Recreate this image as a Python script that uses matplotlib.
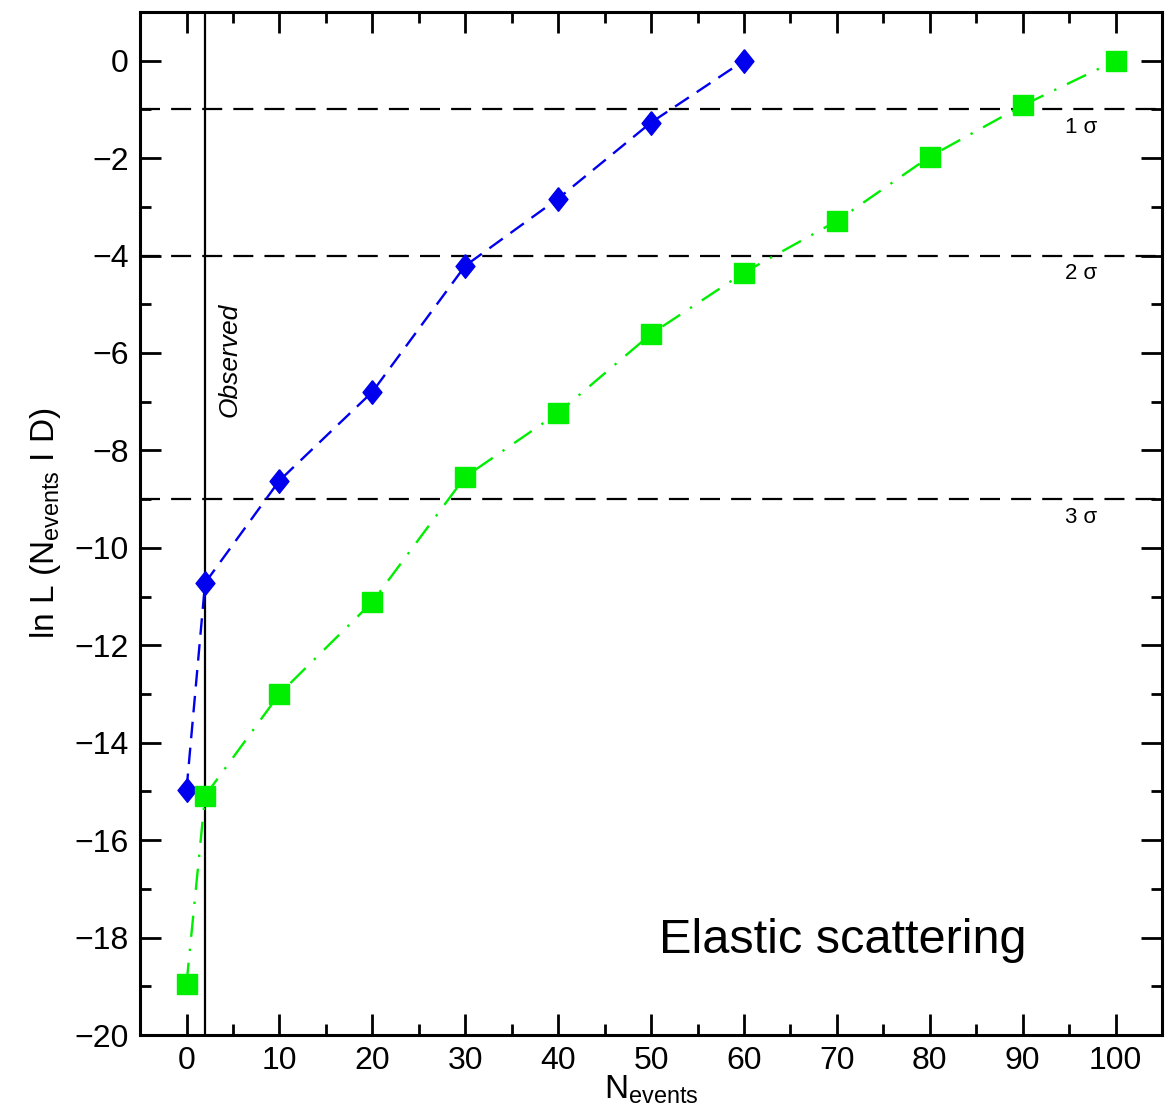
import matplotlib
matplotlib.use('Agg')
import matplotlib.pyplot as plt
from matplotlib.ticker import MultipleLocator

plt.rcParams['font.family'] = ['Liberation Sans', 'DejaVu Sans']
plt.rcParams['mathtext.fontset'] = 'custom'
plt.rcParams['mathtext.rm'] = 'Liberation Sans'

# blue curve (diamonds)
n_blue = [0, 2, 10, 20, 30, 40, 50, 60]
lnL_blue = [-14.97, -10.72, -8.62, -6.80, -4.21, -2.83, -1.27, 0.0]

# green curve (squares)
n_green = [0, 2, 10, 20, 30, 40, 50, 60, 70, 80, 90, 100]
lnL_green = [-18.95, -15.09, -13.0, -11.11, -8.54, -7.23, -5.61, -4.35, -3.29, -1.97, -0.92, 0.0]

sigma_levels = [-1, -4, -9]
sigma_labels = ['1 σ', '2 σ', '3 σ']
n_observed = 2

fig = plt.figure(figsize=(11.7, 11.17), dpi=100)
ax = fig.add_axes([0.1197, 0.0734, 0.8735, 0.9159])

for y in sigma_levels:
    ax.axhline(y, color='black', lw=1.6, ls=(0, (9, 5)), zorder=1)
for y, lab in zip(sigma_levels, sigma_labels):
    ax.text(96.3, y - 0.37, lab, fontsize=16, ha='center', va='center')

ax.axvline(n_observed, color='black', lw=1.6, zorder=1)
ax.text(n_observed + 2.6, -6.15, 'Observed', rotation=90, style='italic',
        fontsize=19, ha='center', va='center')

diamond = [(0, 1), (0.8, 0), (0, -1), (-0.8, 0), (0, 1)]
ax.plot(n_blue, lnL_blue, color='#0000ee', lw=1.7, ls=(0, (7, 4)),
        marker=diamond, markersize=17, zorder=3)
ax.plot(n_green, lnL_green, color='#00ee00', lw=1.7, ls=(0, (9, 5, 1, 5)),
        marker='s', markersize=15, zorder=3)

ax.text(70.6, -18.05, 'Elastic scattering', fontsize=35, ha='center', va='center')

ax.set_xlim(-5, 105)
ax.set_ylim(-20, 1)
ax.xaxis.set_major_locator(MultipleLocator(10))
ax.xaxis.set_minor_locator(MultipleLocator(5))
ax.yaxis.set_major_locator(MultipleLocator(2))
ax.yaxis.set_minor_locator(MultipleLocator(1))
ax.tick_params(which='both', direction='in', top=True, right=True, width=2,
               labelsize=23, pad=8)
ax.tick_params(which='major', length=15)
ax.tick_params(which='minor', length=8)
for s in ax.spines.values():
    s.set_linewidth(2.2)

ax.set_xlabel(r'N$_{\mathrm{events}}$', fontsize=24, labelpad=-2)
ax.set_ylabel(r'ln L (N$_{\mathrm{events}}$ I D)', fontsize=24, labelpad=8)

fig.savefig('out.png', dpi=100)
